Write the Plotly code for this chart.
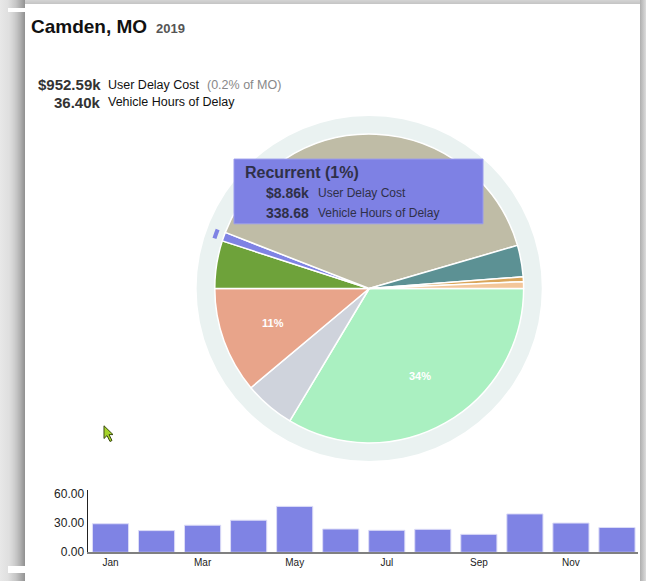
import math
import plotly.graph_objects as go

# page is 646x581; the body keeps its 8px margin, so the figure is 638x565 placed at (8, 8)
PAGE_W, PAGE_H = 646, 581
OX, OY = 8, 8
FW, FH = PAGE_W - OX, PAGE_H - 2 * OY

# ---------------- data ----------------
place = "Camden, MO"
year = "2019"
total_cost = "$952.59k"
state_share = "(0.2% of MO)"
total_hours = "36.40k"

causes = ["Incidents", "Weather", "Work Zones", "Special Events", "Recurrent",
          "Unclassified", "Signal Timing", "Bottlenecks", "Other"]
cause_cost_k = [320.0, 50.5, 105.7, 47.6, 8.86, 377.0, 31.4, 4.8, 6.7]
cause_colors = ["#aaf0c1", "#cfd3dc", "#e8a48a", "#6ea23a", "#7f83e4",
                "#bfbca6", "#5c9194", "#d9a55a", "#f3c69a"]
show_pct = [True, False, True, False, False, False, False, False, False]

hover_name = "Recurrent (1%)"
hover_cost = "$8.86k"
hover_hours = "338.68"

months = ["Jan", "Feb", "Mar", "Apr", "May", "Jun",
          "Jul", "Aug", "Sep", "Oct", "Nov", "Dec"]
monthly_values = [29.1, 22.1, 27.6, 32.7, 46.8, 23.7,
                  22.4, 23.4, 18.3, 39.1, 29.8, 25.3]
month_ticks = ["Jan", "Mar", "May", "Jul", "Sep", "Nov"]
y_ticks = [0, 30, 60]

FONT = "Liberation Sans, Arial, sans-serif"


def px(x):
    """page x pixel -> paper fraction"""
    return (x - OX) / FW


def py(y):
    """page y pixel -> paper fraction"""
    return 1 - (y - OY) / FH


CX, CY = 369.2, 290.0
R_PIE, R_RING, R_HI = 157.5, 176.0, 168.0

fig = go.Figure()

# outer light ring
fig.add_trace(go.Pie(
    values=[1], labels=["ring"], marker=dict(colors=["#eaf2f1"], line=dict(width=0)),
    hole=0.88, sort=False, textinfo="none", hoverinfo="skip", showlegend=False,
    domain=dict(x=[px(CX - R_RING), px(CX + R_RING)], y=[py(CY + R_RING), py(CY - R_RING)]),
))

# main pie
fig.add_trace(go.Pie(
    labels=causes, values=cause_cost_k, sort=False, direction="clockwise", rotation=90,
    marker=dict(colors=cause_colors, line=dict(color="white", width=1.5)),
    textinfo="none", showlegend=False, hoverinfo="skip",
    domain=dict(x=[px(CX - R_PIE), px(CX + R_PIE)], y=[py(CY + R_PIE), py(CY - R_PIE)]),
))

# hover highlight arc on the Recurrent slice
fig.add_trace(go.Pie(
    labels=causes, values=cause_cost_k, sort=False, direction="clockwise", rotation=90,
    marker=dict(colors=[c if n == "Recurrent" else "rgba(0,0,0,0)" for n, c in zip(causes, cause_colors)],
                line=dict(width=0)),
    hole=0.975, textinfo="none", hoverinfo="skip", showlegend=False,
    domain=dict(x=[px(CX - R_HI), px(CX + R_HI)], y=[py(CY + R_HI), py(CY - R_HI)]),
))

# monthly bars
fig.add_trace(go.Bar(
    x=months, y=monthly_values,
    marker=dict(color="#7f83e4", line=dict(color="#dcdcf7", width=1)),
    showlegend=False, hoverinfo="skip",
))

shapes = []
# card shadow (left and right)
for i in range(OX, 25):
    t = i / 24
    g = int(232 - 85 * t ** 2.2)
    shapes.append(dict(type="rect", xref="paper", yref="paper", layer="below",
                       x0=px(i), x1=px(i + 1), y0=0, y1=1,
                       fillcolor=f"rgb({g},{g},{g})", line=dict(width=0)))
for i in range(6):
    t = i / 5
    g = int(175 + 45 * t)
    shapes.append(dict(type="rect", xref="paper", yref="paper", layer="below",
                       x0=px(640 + i), x1=px(641 + i), y0=0, y1=1,
                       fillcolor=f"rgb({g},{g},{g})", line=dict(width=0)))
shapes.append(dict(type="rect", xref="paper", yref="paper", layer="below",
                   x0=px(25), x1=px(640), y0=0, y1=1,
                   fillcolor="white", line=dict(width=0)))

# tooltip box
shapes.append(dict(type="rect", xref="paper", yref="paper", layer="above",
                   x0=px(234), x1=px(483), y0=py(224), y1=py(158),
                   fillcolor="#7e81e4", line=dict(color="#9a9cec", width=1)))

# mouse cursor
cur = [(104, 430), (104, 443), (107, 440), (110, 446), (112, 445), (109, 439), (113, 439)]
path = "M " + " L ".join(f"{px(x):.5f},{py(y):.5f}" for x, y in cur) + " Z"
shapes.append(dict(type="path", xref="paper", yref="paper", layer="above", path=path,
                   fillcolor="#a6d42a", line=dict(color="#3a4a10", width=1)))

annotations = []


def ann(text, x, y, size, color="#222", xanchor="left", bold=False):
    annotations.append(dict(
        text=f"<b>{text}</b>" if bold else text, x=px(x), y=py(y), xref="paper", yref="paper",
        xanchor=xanchor, yanchor="middle", showarrow=False,
        font=dict(family=FONT, size=size, color=color)))


# percentage labels placed along each slice's mid-angle (derived from the values)
total = sum(cause_cost_k)
cum = 0.0
for v, s in zip(cause_cost_k, show_pct):
    mid = (cum + v / 2) / total * 2 * math.pi  # clockwise from 3 o'clock
    cum += v
    if s:
        lx = CX + 0.65 * R_PIE * math.cos(mid)
        ly = CY + 0.65 * R_PIE * math.sin(mid)
        annotations.append(dict(
            text=f"<b>{round(100 * v / total)}%</b>", x=px(lx), y=py(ly),
            xref="paper", yref="paper", xanchor="center", yanchor="middle", showarrow=False,
            font=dict(family=FONT, size=11, color="white")))

ann(place, 29, 23, 19, "#111", bold=True)
ann(year, 154, 25, 13, "#555", bold=True)

ann(total_cost, 103, 82, 15, "#333", xanchor="right", bold=True)
ann("User Delay Cost", 106, 82, 12.5, "#111")
ann(state_share, 205, 82, 12.5, "#888")
ann(total_hours, 103, 100, 15, "#333", xanchor="right", bold=True)
ann("Vehicle Hours of Delay", 106, 100, 12.5, "#111")

ann(hover_name, 243, 172, 16, "#2f3048", bold=True)
ann(hover_cost, 311, 193, 14, "#2f3048", xanchor="right", bold=True)
ann("User Delay Cost", 316, 193, 12, "#2f3048")
ann(hover_hours, 311, 213, 14, "#2f3048", xanchor="right", bold=True)
ann("Vehicle Hours of Delay", 316, 213, 12, "#2f3048")

fig.update_layout(
    width=FW, height=FH, margin=dict(l=0, r=0, t=0, b=0),
    paper_bgcolor="white", plot_bgcolor="rgba(0,0,0,0)",
    font=dict(family=FONT, color="#222"),
    shapes=shapes, annotations=annotations, showlegend=False, bargap=0.215,
    xaxis=dict(domain=[px(87.5), px(640)], type="category", tickvals=month_ticks,
               ticktext=month_ticks, showline=True, linecolor="#808080", linewidth=2,
               showgrid=False, ticks="", tickfont=dict(size=10, color="#222"), fixedrange=True),
    yaxis=dict(domain=[py(559), py(496)], range=[0, 63], tickvals=y_ticks, tickformat=".2f",
               showline=True, linecolor="#222", linewidth=1, showgrid=False, zeroline=False,
               ticks="", tickfont=dict(size=12, color="#222"), fixedrange=True),
)

# page background outside the figure (colour only, no size change)
bg_js = (
    "document.body.style.background="
    "'linear-gradient(to right, #e8e8e8 0px, #e0e0e0 8px, #c5c5c5 16px, #939393 25px, rgba(255,255,255,0) 25px),"
    " linear-gradient(to left, #dcdcdc 0px, #afafaf 6px, rgba(255,255,255,0) 6px),"
    " linear-gradient(to bottom, #d4d4d4 0px, #c4c4c4 4px, #ffffff 4px)';"
)

fig.write_html("out.html", config={"displayModeBar": False}, post_script=bg_js)
